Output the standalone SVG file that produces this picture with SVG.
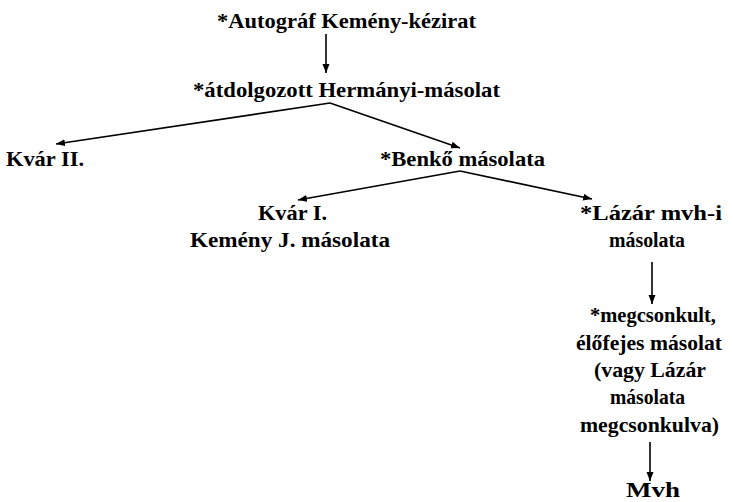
<svg xmlns="http://www.w3.org/2000/svg" width="733" height="502" viewBox="0 0 733 502">
<defs>
<marker id="ah" markerUnits="userSpaceOnUse" markerWidth="10" markerHeight="8" refX="9" refY="4" orient="auto">
<path d="M0,0.5 L9,4 L0,7.5 Z" fill="#000"/>
</marker>
<style>
text{font-family:"Liberation Serif","Times New Roman",serif;font-weight:bold;font-size:22px;fill:#000}
text.s{font-size:22px}
.c{stroke:#000;stroke-width:1.6;fill:none;marker-end:url(#ah)}
</style>
</defs>
<rect width="733" height="502" fill="#fff"/>
<g id="connectors">
<line class="c" x1="326" y1="34" x2="326" y2="73"/>
<line class="c" x1="330" y1="103" x2="56" y2="144"/>
<line class="c" x1="330" y1="103" x2="460" y2="148"/>
<line class="c" x1="460" y1="171" x2="298" y2="200"/>
<line class="c" x1="460" y1="171" x2="592" y2="199"/>
<line class="c" x1="652" y1="262" x2="652" y2="304"/>
<line class="c" x1="650" y1="442" x2="650" y2="481"/>
</g>
<g id="n1"><text x="217" y="28" textLength="259" lengthAdjust="spacingAndGlyphs">*Autográf Kemény-kézirat</text></g>
<g id="n2"><text x="193" y="97" textLength="307" lengthAdjust="spacingAndGlyphs">*átdolgozott Hermányi-másolat</text></g>
<g id="n3"><text x="6" y="166" textLength="78" lengthAdjust="spacingAndGlyphs">Kvár II.</text></g>
<g id="n4"><text x="380" y="166" textLength="165" lengthAdjust="spacingAndGlyphs">*Benkő másolata</text></g>
<g id="n5"><text class="s" x="258" y="220" textLength="69" lengthAdjust="spacingAndGlyphs">Kvár I.</text><text class="s" x="190" y="247" textLength="200" lengthAdjust="spacingAndGlyphs">Kemény J. másolata</text></g>
<g id="n6"><text class="s" x="580" y="220" textLength="142" lengthAdjust="spacingAndGlyphs">*Lázár mvh-i</text><text class="s" x="609" y="247" textLength="76" lengthAdjust="spacingAndGlyphs">másolata</text></g>
<g id="n7">
<text class="s" x="590" y="322" textLength="126" lengthAdjust="spacingAndGlyphs">*megcsonkult,</text>
<text class="s" x="576" y="350" textLength="146" lengthAdjust="spacingAndGlyphs">élőfejes másolat</text>
<text class="s" x="594" y="377" textLength="112" lengthAdjust="spacingAndGlyphs">(vagy Lázár</text>
<text class="s" x="610" y="404" textLength="75" lengthAdjust="spacingAndGlyphs">másolata</text>
<text class="s" x="580" y="432" textLength="139" lengthAdjust="spacingAndGlyphs">megcsonkulva)</text>
</g>
<g id="n8"><text class="s" x="626" y="497" textLength="54" lengthAdjust="spacingAndGlyphs">Mvh</text></g>
</svg>
